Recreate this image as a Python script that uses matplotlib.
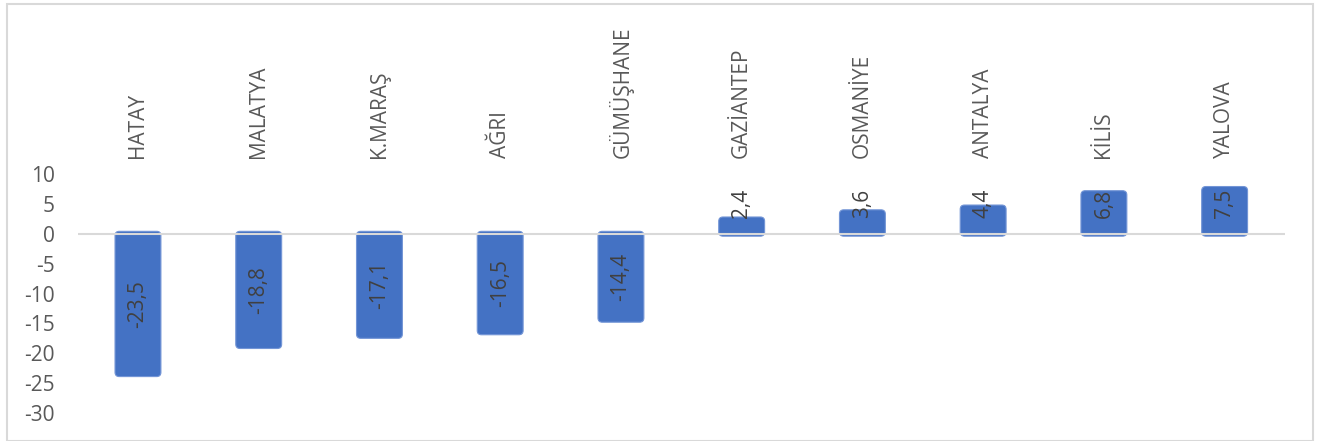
import matplotlib
matplotlib.use("Agg")
import matplotlib.pyplot as plt
from matplotlib.patches import FancyBboxPatch, Rectangle
import matplotlib.transforms as mtransforms

categories = ["HATAY", "MALATYA", "K.MARAŞ", "AĞRI", "GÜMÜŞHANE",
              "GAZİANTEP", "OSMANİYE", "ANTALYA", "KİLİS", "YALOVA"]
values = [-23.5, -18.8, -17.1, -16.5, -14.4, 2.4, 3.6, 4.4, 6.8, 7.5]
value_labels = ["-23,5", "-18,8", "-17,1", "-16,5", "-14,4",
                "2,4", "3,6", "4,4", "6,8", "7,5"]
yticks = [10, 5, 0, -5, -10, -15, -20, -25, -30]

plt.rcParams['font.family'] = ['Open Sans', 'DejaVu Sans']
BLUE = "#4472C4"
TXT = "#595959"
FS = 15

fig = plt.figure(figsize=(13.17, 4.41), dpi=100)
ax = fig.add_axes([77.6/1317, 1-413/441, (1285-77.6)/1317, (413-174)/441])

x = list(range(len(categories)))
bars = ax.bar(x, values, width=0.34, color=BLUE)
ax.set_xlim(-0.5, len(categories)-0.5)
ax.set_ylim(-30, 10)

# rounded bars
px_x = (1285-77.6)/len(categories)
px_y = (413-174)/40
for b in bars:
    b.set_visible(False)
    y0 = min(b.get_y(), b.get_y() + b.get_height())
    h = abs(b.get_height())
    p = FancyBboxPatch((b.get_x(), y0), b.get_width(), h,
                       boxstyle="round,pad=0.02,rounding_size=0.035",
                       mutation_aspect=px_x/px_y,
                       facecolor=BLUE, edgecolor="#7395d6", linewidth=0.8,
                       zorder=3)
    ax.add_patch(p)

ax.axhline(0, color="#D9D9D9", linewidth=1.5, zorder=4)

for s in ax.spines.values():
    s.set_visible(False)
ax.set_xticks([])
ax.set_yticks(yticks)
ax.set_yticklabels([str(t) for t in yticks])
ax.tick_params(axis='y', length=0, pad=16.5, labelsize=FS, labelcolor=TXT)

trans = mtransforms.blended_transform_factory(ax.transData, ax.transAxes)
for i, c in enumerate(categories):
    ax.text(i, 1 + 16/239, c, transform=trans, rotation=90, ha='center',
            va='bottom', fontsize=FS, color=TXT)

for i, (v, lab) in enumerate(zip(values, value_labels)):
    ypos = v/2 if v < 0 else 5.1
    ax.text(i, ypos, lab, rotation=90, ha='center', va='center',
            fontsize=FS, color="#404040", zorder=5)

fig.patches.append(Rectangle((6.5/1317, 0), (1313-6.5)/1317, 1-3.5/441,
                             transform=fig.transFigure, fill=False,
                             edgecolor="#D9D9D9", linewidth=1.5))

fig.savefig("out.png", dpi=100)
